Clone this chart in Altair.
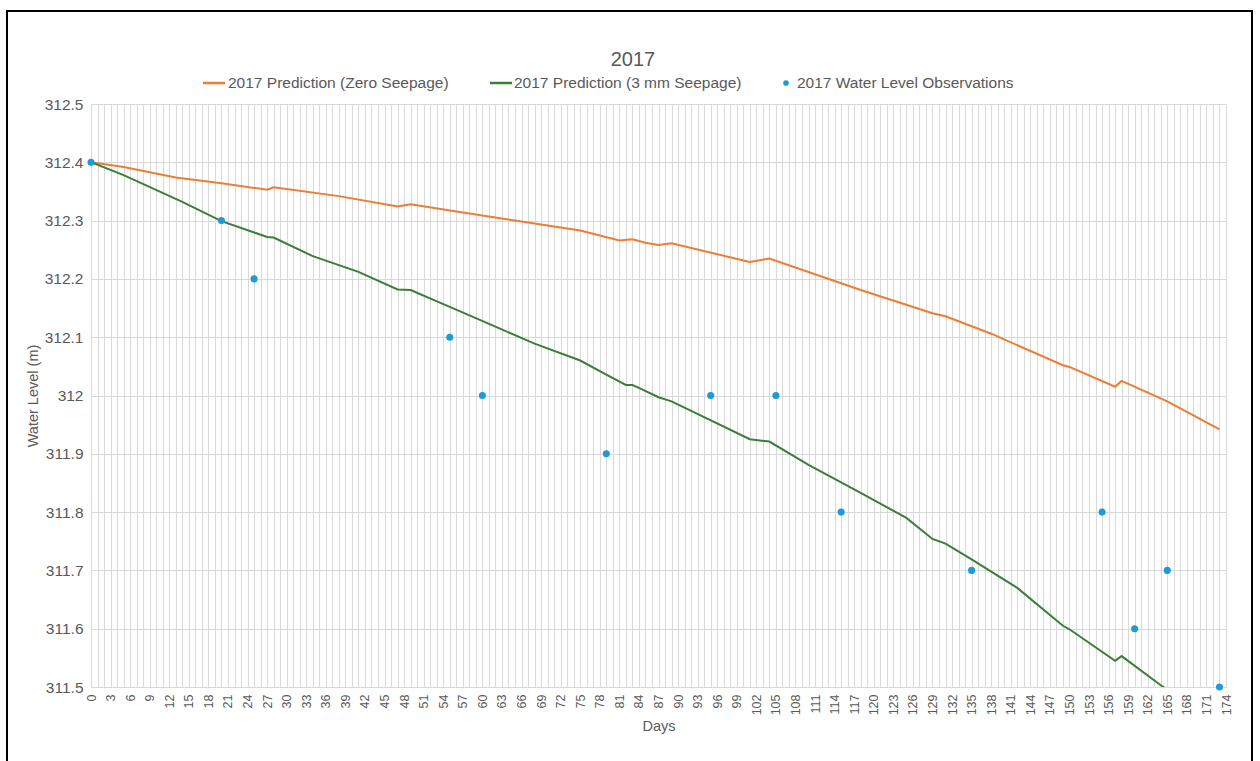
import altair as alt
import pandas as pd

# Model run, no seepage loss
zero_days = [0, 5, 13, 20, 27, 28, 38, 47, 49, 57, 65, 75, 81, 83, 85, 87, 89,
             101, 104, 118, 129, 131, 138, 149, 150, 157, 158, 165, 173]
zero_level = [312.400, 312.392, 312.374, 312.364, 312.353, 312.357, 312.342,
              312.324, 312.328, 312.314, 312.300, 312.283, 312.266, 312.268,
              312.262, 312.258, 312.261, 312.229, 312.235, 312.181, 312.141,
              312.136, 312.106, 312.052, 312.049, 312.015, 312.025, 311.990,
              311.942]

# Model run, 3 mm/day seepage loss
seep_days = [0, 5, 14, 20, 27, 28, 34, 41, 47, 49, 55, 62, 68, 75, 79, 82, 83,
             84, 87, 89, 101, 104, 110, 118, 125, 129, 131, 135, 142, 149, 150,
             157, 158, 164, 165]
seep_level = [312.400, 312.378, 312.332, 312.299, 312.272, 312.271, 312.239,
              312.212, 312.182, 312.181, 312.152, 312.118, 312.089, 312.060,
              312.036, 312.018, 312.018, 312.013, 311.997, 311.990, 311.925,
              311.921, 311.881, 311.833, 311.790, 311.754, 311.746, 311.719,
              311.670, 311.605, 311.599, 311.545, 311.553, 311.503, 311.496]

# Measured water levels
obs_days = [0, 20, 25, 55, 60, 79, 95, 105, 115, 135, 155, 160, 165, 173]
obs_level = [312.4, 312.3, 312.2, 312.1, 312.0, 311.9, 312.0, 312.0, 311.8,
             311.7, 311.8, 311.6, 311.7, 311.5]

series_names = ["2017 Prediction (Zero Seepage)",
                "2017 Prediction (3 mm Seepage)",
                "2017 Water Level Observations"]
series_colors = ["#ED7D31", "#3C7D3C", "#1E9BD7"]

y_ticks = [311.5, 311.6, 311.7, 311.8, 311.9, 312.0, 312.1, 312.2, 312.3, 312.4, 312.5]
x_ticks = list(range(0, 175))

FONT = "Liberation Sans"
TEXT = "#595959"
GRID = "#d9d9d9"
W, H = 1135, 583
LEFT, TOP = 91, 104

zero_df = pd.DataFrame({"day": zero_days, "level": zero_level})
seep_df = pd.DataFrame({"day": seep_days, "level": seep_level})
obs_df = pd.DataFrame({"day": obs_days, "level": obs_level})

x_scale = alt.Scale(domain=[0, 174], nice=False, zero=False)
y_scale = alt.Scale(domain=[311.5, 312.5], nice=False, zero=False)

x_enc = alt.X(
    "day:Q", scale=x_scale,
    axis=alt.Axis(
        values=x_ticks,
        labelExpr="datum.value % 3 == 0 ? datum.label : ''",
        labelOverlap=False, labelAngle=270, labelPadding=7,
        labelFontSize=12.5, labelColor=TEXT, labelFont=FONT,
        grid=True, gridColor=GRID, gridWidth=1,
        ticks=False, domainColor=GRID,
        title="Days", titleFont=FONT, titleFontSize=14.5,
        titleFontWeight="normal", titleColor=TEXT, titlePadding=5,
    ),
)
y_enc = alt.Y(
    "level:Q", scale=y_scale,
    axis=alt.Axis(
        values=y_ticks, format=".4~r",
        labelFontSize=15.5, labelColor=TEXT, labelFont=FONT, labelPadding=8,
        grid=True, gridColor=GRID, gridWidth=1,
        ticks=False, domain=False,
        title="Water Level (m)", titleFont=FONT, titleFontSize=14.5,
        titleFontWeight="normal", titleColor=TEXT, titlePadding=4,
    ),
)

zero_line = alt.Chart(zero_df).mark_line(
    color=series_colors[0], strokeWidth=2, clip=True
).encode(x=x_enc, y=y_enc)

seep_line = alt.Chart(seep_df).mark_line(
    color=series_colors[1], strokeWidth=2, clip=True
).encode(x=x_enc, y=y_enc)

obs_pts = alt.Chart(obs_df).mark_circle(
    color=series_colors[2], size=50, opacity=1
).encode(x=x_enc, y=y_enc)

# Title and legend drawn in pixel space above the plot
one = pd.DataFrame({"k": [0]})
title = alt.Chart(one).mark_text(
    text="2017", font=FONT, fontSize=20, color=TEXT, align="center", baseline="middle"
).encode(x=alt.value(542), y=alt.value(-44))

LEG_Y = -21
legend_layers = []
sw_x = [(112, 134), (399, 421)]
txt_x = [137, 423, 706]
for i in range(2):
    legend_layers.append(
        alt.Chart(one).mark_rule(color=series_colors[i], strokeWidth=2.5).encode(
            x=alt.value(sw_x[i][0]), x2=alt.value(sw_x[i][1]), y=alt.value(LEG_Y)
        )
    )
legend_layers.append(
    alt.Chart(one).mark_circle(color=series_colors[2], size=32, opacity=1).encode(
        x=alt.value(695), y=alt.value(LEG_Y)
    )
)
for i in range(3):
    legend_layers.append(
        alt.Chart(pd.DataFrame({"name": [series_names[i]]})).mark_text(
            font=FONT, fontSize=15.5, color=TEXT, align="left", baseline="middle"
        ).encode(text="name:N", x=alt.value(txt_x[i]), y=alt.value(LEG_Y))
    )

frame = alt.Chart(one).mark_rect(
    fill=None, fillOpacity=0, stroke="black", strokeWidth=2
).encode(
    x=alt.value(7 - LEFT), x2=alt.value(1252 - LEFT),
    y=alt.value(11 - TOP), y2=alt.value(800 - TOP),
)

chart = alt.layer(
    zero_line, seep_line, obs_pts, title, *legend_layers, frame
).properties(
    width=W, height=H,
    padding={"left": LEFT, "top": TOP, "right": 1260 - LEFT - W, "bottom": 761 - TOP - H},
    autosize=alt.AutoSizeParams(type="none"),
    background="white",
).configure_view(stroke=None)

chart.save("out.html", embed_options={"renderer": "svg", "actions": False})
